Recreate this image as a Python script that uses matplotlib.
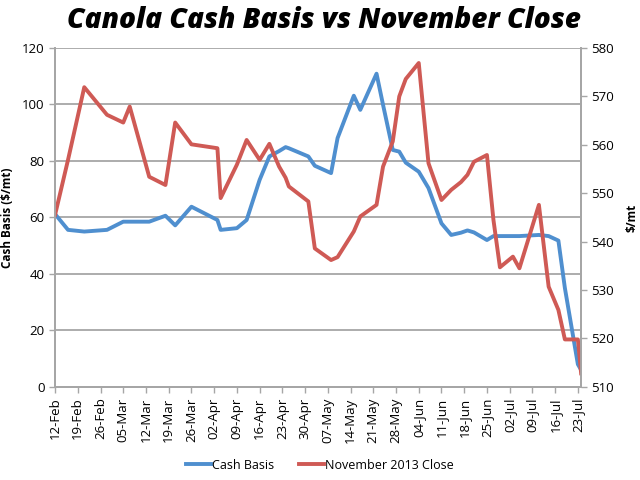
import matplotlib
matplotlib.use("Agg")
import matplotlib.pyplot as plt
import pandas as pd

plt.rcParams['font.family'] = ['Open Sans', 'DejaVu Sans']

start = pd.Timestamp('2013-02-12')
day_offsets = [0, 4, 9, 16, 21, 23, 29, 34, 37, 42, 50, 51, 56, 59, 63, 66, 69, 71, 72,
               78, 80, 85, 87, 92, 94, 99, 101, 104, 106, 108, 112, 115, 119, 122, 125,
               127, 129, 133, 135, 137, 141, 143, 149, 152, 155, 157, 161, 162]
dates = [start + pd.Timedelta(days=d) for d in day_offsets]

cash_basis = [61.2, 55.6, 55.0, 55.6, 58.5, 58.5, 58.5, 60.6, 57.2, 63.8, 59.1, 55.6, 56.2,
              59.1, 73.3, 81.6, 83.5, 84.9, 84.5, 81.6, 78.3, 75.7, 88.1, 103.1, 98.1,
              110.9, 99.9, 83.9, 83.3, 79.4, 76.2, 70.4, 57.9, 53.8, 54.6, 55.4, 54.7,
              52.0, 53.4, 53.4, 53.4, 53.4, 53.8, 53.4, 51.8, 35.0, 8.0, 6.0]
nov_close = [545.5, 556.9, 571.9, 566.2, 564.6, 567.9, 553.4, 551.7, 564.6, 560.1, 559.3,
             549.0, 555.9, 561.0, 556.9, 560.2, 555.5, 553.2, 551.4, 548.3, 538.6, 536.2,
             536.8, 542.1, 545.2, 547.6, 555.5, 560.7, 570.0, 573.6, 576.9, 556.2, 548.6,
             550.7, 552.3, 553.8, 556.5, 557.9, 544.5, 534.7, 536.9, 534.5, 547.6, 530.7,
             525.9, 519.8, 519.8, 512.8]

tick_dates = pd.date_range('2013-02-12', '2013-07-23', freq='7D')
left_ticks = [0, 20, 40, 60, 80, 100, 120]
right_ticks = [510, 520, 530, 540, 550, 560, 570, 580]

blue = '#4F8FCF'
red = '#CF5A55'
grid_c = '#A6A6A6'

fig = plt.figure(figsize=(6.4, 4.8), dpi=100)
ax = fig.add_axes([0.086, 0.194, 0.822, 0.706])
ax2 = ax.twinx()

l1, = ax.plot(dates, cash_basis, color=blue, lw=2.8, label='Cash Basis', solid_joinstyle='round')
l2, = ax2.plot(dates, nov_close, color=red, lw=2.8, label='November 2013 Close', solid_joinstyle='round')

ax.set_xlim(start, start + pd.Timedelta(days=162))
ax.set_ylim(0, 120)
ax2.set_ylim(510, 580)
ax.set_yticks(left_ticks)
ax2.set_yticks(right_ticks)
ax.set_xticks(tick_dates)
ax.set_xticklabels([d.strftime('%d-%b') for d in tick_dates], rotation=90)

ax.yaxis.grid(True, color=grid_c, lw=1.3)
ax.set_axisbelow(True)

for a in (ax, ax2):
    a.spines['top'].set_visible(False)
    for s in ('left', 'right', 'bottom'):
        a.spines[s].set_color(grid_c)
        a.spines[s].set_linewidth(1.3)
    a.tick_params(colors=grid_c, labelcolor='black', length=4, width=1.0, labelsize=9.5)

ax.set_ylabel('Cash Basis ($/mt)', fontsize=8.5, fontweight='bold', labelpad=6)
ax2.set_ylabel('$/mt', fontsize=8.5, fontweight='bold', labelpad=8)

fig.text(0.506, 0.957, 'Canola Cash Basis vs November Close', ha='center', va='center',
         fontsize=20.2, fontweight='heavy', fontstyle='italic')

fig.legend([l1, l2], ['Cash Basis', 'November 2013 Close'], loc='center',
           bbox_to_anchor=(0.5, 0.031), ncol=2, frameon=False, fontsize=9,
           handlelength=2.0, columnspacing=2.0, handletextpad=0.1)

fig.savefig('out.png', dpi=100)
